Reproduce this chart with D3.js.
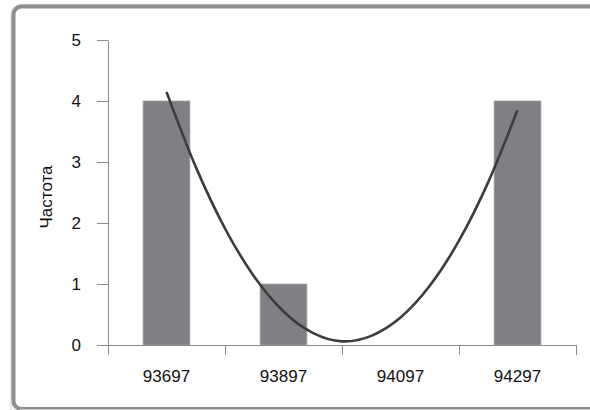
<!DOCTYPE html>
<html>
<head>
<meta charset="utf-8">
<script src="https://cdn.jsdelivr.net/npm/d3@7"></script>
<style>
  html, body { margin: 0; background: #fff; overflow: hidden; }
  svg { display: block; font-family: "Liberation Sans", Arial, Helvetica, sans-serif; }
</style>
</head>
<body>
<div id="chart"></div>
<script>
// histogram data
var categories = ["93697", "93897", "94097", "94297"];
var counts = [4, 1, 0, 4];
var yTicks = [0, 1, 2, 3, 4, 5];

// trendline (polynomial), position in category units
var trendX = [0.5, 0.75, 1.0, 1.25, 1.5, 1.75, 2.0, 2.25, 2.5, 2.75, 3.0, 3.25, 3.5];
var trendY = [4.15, 2.92, 1.91, 1.12, 0.55, 0.20, 0.06, 0.15, 0.45, 0.97, 1.71, 2.67, 3.85];

var width = 590, height = 410;
var plotLeft = 108, plotRight = 576, plotTop = 40, plotBottom = 345;
var fontSize = 17;

var svg = d3.select("#chart").append("svg")
    .attr("width", width)
    .attr("height", height);

// frame: only the top and left sides fall inside the picture
var frame = d3.path();
frame.moveTo(width + 10, 6.5);
frame.lineTo(21.5, 6.5);
frame.arcTo(13.5, 6.5, 13.5, 14.5, 8);
frame.lineTo(13.5, 401);
frame.arcTo(13.5, 409, 21.5, 409, 8);
frame.lineTo(width + 10, 409);

var shadow = d3.path();
shadow.moveTo(width + 10, 4.5);
shadow.lineTo(21, 4.5);
shadow.arcTo(11, 4.5, 11, 14.5, 10);
shadow.lineTo(11, 420);

svg.append("path")
    .attr("d", shadow.toString())
    .attr("fill", "none")
    .attr("stroke", "#e0e0e0")
    .attr("stroke-width", 1.5);
svg.append("path")
    .attr("d", frame.toString())
    .attr("fill", "none")
    .attr("stroke", "#8f8f8f")
    .attr("stroke-width", 4);
svg.append("line")
    .attr("x1", 20).attr("x2", width)
    .attr("y1", 409.5).attr("y2", 409.5)
    .attr("stroke", "#cfcfcf")
    .attr("stroke-width", 1);

var xBand = d3.scaleBand()
    .domain(categories)
    .range([plotLeft, plotRight])
    .padding(0);

var xLin = d3.scaleLinear()
    .domain([0, categories.length])
    .range([plotLeft, plotRight]);

var yScale = d3.scaleLinear()
    .domain([0, 5])
    .range([plotBottom, plotTop]);

// y axis
var yAxis = svg.append("g")
    .attr("transform", "translate(" + plotLeft + ",0)")
    .call(d3.axisLeft(yScale).tickValues(yTicks).tickFormat(d3.format("d"))
        .tickSize(11).tickSizeOuter(0).tickPadding(16));
yAxis.selectAll("line, path").attr("stroke", "#8a8a8a");
yAxis.selectAll("text").attr("font-size", fontSize).attr("fill", "#111")
    .style("font-family", "Liberation Sans, Arial, sans-serif");

// bars
var barW = xBand.bandwidth() * 0.4;
svg.append("g").selectAll("rect")
    .data(counts)
    .join("rect")
    .attr("x", function(d, i) { return xBand(categories[i]) + (xBand.bandwidth() - barW) / 2; })
    .attr("y", function(d) { return yScale(d); })
    .attr("width", barW)
    .attr("height", function(d) { return yScale(0) - yScale(d); })
    .attr("fill", "#7f8084")
    .attr("stroke", "#a2a3a6")
    .attr("stroke-width", 0.8);

// x axis: boundary ticks
var xTicks = svg.append("g")
    .attr("transform", "translate(0," + plotBottom + ")")
    .call(d3.axisBottom(xLin).tickValues(d3.range(categories.length + 1)).tickFormat("").tickSize(10).tickSizeOuter(0));
xTicks.selectAll("line, path").attr("stroke", "#8a8a8a");

// x axis: labels centred on bands
var xLabels = svg.append("g")
    .attr("transform", "translate(0," + plotBottom + ")")
    .call(d3.axisBottom(xBand).tickSize(0).tickPadding(25));
xLabels.select(".domain").remove();
xLabels.selectAll("text").attr("font-size", fontSize).attr("fill", "#111")
    .style("font-family", "Liberation Sans, Arial, sans-serif");

// trendline
var line = d3.line()
    .x(function(d, i) { return xLin(trendX[i]); })
    .y(function(d) { return yScale(d); })
    .curve(d3.curveCardinal.tension(0));

svg.append("path")
    .datum(trendY)
    .attr("d", line)
    .attr("fill", "none")
    .attr("stroke", "#3c3c3c")
    .attr("stroke-width", 2.6);

// y axis title
svg.append("text")
    .attr("transform", "translate(52,197) rotate(-90)")
    .attr("text-anchor", "middle")
    .attr("font-size", fontSize)
    .attr("fill", "#111")
    .text("Частота");
</script>
</body>
</html>
